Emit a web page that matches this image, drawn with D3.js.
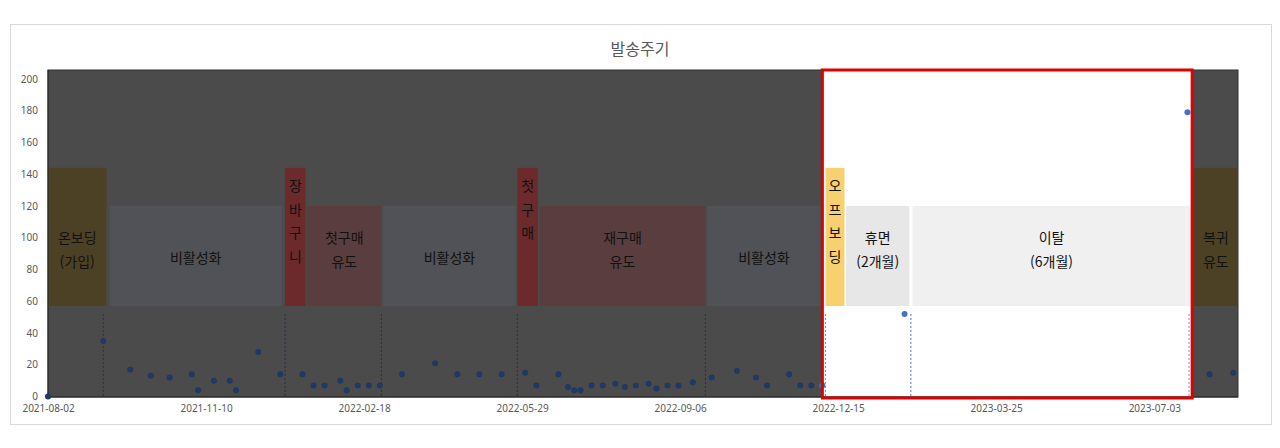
<!DOCTYPE html>
<html lang="ko">
<head>
    <meta charset="UTF-8">
    <title>발송주기</title>
    <script src="https://d3js.org/d3.v7.min.js"></script>
    <style>
        body { margin: 0; background: #fff; }
        .tick_text { font-family: "Noto Sans", sans-serif; font-size: 10px; fill: #595959; }
        .phase_text { font-family: "Noto Sans CJK KR", sans-serif; font-size: 14px; }
    </style>
</head>
<body>
<svg width="1280" height="448"></svg>

<script>
    // send dates and interval (days since previous send)
    const sendDates = [
        "2021-08-02", "2021-09-06", "2021-09-23", "2021-10-06", "2021-10-18", "2021-11-01",
        "2021-11-05", "2021-11-15", "2021-11-25", "2021-11-29", "2021-12-13", "2021-12-27",
        "2022-01-10", "2022-01-17", "2022-01-24", "2022-02-03", "2022-02-07", "2022-02-14",
        "2022-02-21", "2022-02-28", "2022-03-14", "2022-04-04", "2022-04-18", "2022-05-02",
        "2022-05-16", "2022-05-31", "2022-06-07", "2022-06-21", "2022-06-27", "2022-07-01",
        "2022-07-05", "2022-07-12", "2022-07-19", "2022-07-27", "2022-08-02", "2022-08-09",
        "2022-08-17", "2022-08-22", "2022-08-29", "2022-09-05", "2022-09-14", "2022-09-26",
        "2022-10-12", "2022-10-24", "2022-10-31", "2022-11-14", "2022-11-21", "2022-11-28",
        "2022-12-05", "2023-01-26", "2023-07-24", "2023-08-07", "2023-08-22"
    ];
    const sendIntervals = [
        0, 35, 17, 13, 12, 14,
        4, 10, 10, 4, 28, 14,
        14, 7, 7, 10, 4, 7,
        7, 7, 14, 21, 14, 14,
        14, 15, 7, 14, 6, 4,
        4, 7, 7, 8, 6, 7,
        8, 5, 7, 7, 9, 12,
        16, 12, 7, 14, 7, 7,
        7, 52, 179, 14, 15
    ];

    // lifecycle phases
    const phaseNames = ["온보딩\n(가입)", "비활성화", "장바구니", "첫구매\n유도", "비활성화", "첫구매",
        "재구매\n유도", "비활성화", "오프보딩", "휴면\n(2개월)", "이탈\n(6개월)", "복귀\n유도"];
    const phaseStarts = ["2021-08-02", "2021-09-10", "2021-12-30", "2022-01-13", "2022-03-02", "2022-05-26",
        "2022-06-09", "2022-09-23", "2022-12-07", "2022-12-20", "2023-01-31", "2023-07-28"];
    const phaseEnds = ["2021-09-08", "2021-12-28", "2022-01-12", "2022-03-01", "2022-05-25", "2022-06-08",
        "2022-09-22", "2022-12-04", "2022-12-19", "2023-01-29", "2023-07-26", "2023-08-25"];
    const phaseKinds = ["onboard", "idle", "event", "nudge", "idle", "event",
        "nudge", "idle", "offboard", "dormant", "churn", "onboard"];

    // dotted marker lines at phase changes
    const markerDates = ["2021-09-06", "2021-12-30", "2022-03-01", "2022-05-26", "2022-09-22",
        "2022-12-07", "2023-01-30", "2023-07-25"];

    const highlightRange = ["2022-12-05", "2023-07-27"];
    const axisRange = ["2021-08-02", "2023-08-25"];
    const xTickLabels = ["2021-08-02", "2021-11-10", "2022-02-18", "2022-05-29", "2022-09-06",
        "2022-12-15", "2023-03-25", "2023-07-03"];
    const yTicks = [0, 20, 40, 60, 80, 100, 120, 140, 160, 180, 200];

    const parse = d3.utcParse("%Y-%m-%d");
    const svg = d3.select("svg");

    const plotLeft = 48, plotRight = 1238, plotTop = 70, plotBottom = 397;

    const x = d3.scaleUtc().domain(axisRange.map(parse)).range([plotLeft, plotRight]);
    const y = d3.scaleLinear().domain([0, 200]).range([396.5, 79]);

    const tallTop = 144, shortTop = 120, boxBase = 57, markerTop = 52;

    // fill colours (already dimmed where the dark cover lies)
    const kindFill = {
        onboard: "#4c4124", idle: "#505257", event: "#6c2a2c", nudge: "#5a3e3f",
        offboard: "#f7d06f", dormant: "#e7e7e7", churn: "#f0f0f0"
    };
    const tallKinds = ["onboard", "event", "offboard"];

    const hx0 = x(parse(highlightRange[0])), hx1 = x(parse(highlightRange[1]));
    const inHole = px => px >= hx0 && px <= hx1;

    // chart frame
    svg.append("rect")
        .attr("x", 10.5).attr("y", 24.5).attr("width", 1261).attr("height", 400)
        .attr("fill", "#fff").attr("stroke", "#d9d9d9");

    svg.append("text")
        .attr("x", 640).attr("y", 48)
        .attr("text-anchor", "middle").attr("dominant-baseline", "central")
        .style("font-family", "'Noto Sans CJK KR', sans-serif")
        .style("font-size", "16px").attr("fill", "#595959")
        .text("발송주기");

    // dark cover with a hole for the highlighted period
    const cover = d3.path();
    cover.rect(plotLeft, plotTop, plotRight - plotLeft, plotBottom - plotTop);
    cover.rect(hx0, plotTop, hx1 - hx0, plotBottom - plotTop + 1);
    svg.append("path")
        .attr("d", cover.toString())
        .attr("fill", "#4b4b4b").attr("fill-rule", "evenodd");
    svg.append("rect")
        .attr("x", plotLeft).attr("y", plotTop)
        .attr("width", plotRight - plotLeft).attr("height", plotBottom - plotTop)
        .attr("fill", "none").attr("stroke", "#333");

    // phase boxes
    const phases = phaseNames.map((name, i) => ({
        name: name, kind: phaseKinds[i],
        x0: x(parse(phaseStarts[i])), x1: x(parse(phaseEnds[i]))
    }));

    svg.append("g").selectAll("rect")
        .data(phases).enter().append("rect")
        .attr("x", d => d.x0)
        .attr("width", d => d.x1 - d.x0)
        .attr("y", d => y(tallKinds.includes(d.kind) ? tallTop : shortTop))
        .attr("height", d => y(boxBase) - y(tallKinds.includes(d.kind) ? tallTop : shortTop))
        .attr("fill", d => kindFill[d.kind]);

    const yMid = (y(shortTop) + y(boxBase)) / 2;
    const labels = svg.append("g").attr("class", "phase_text");
    phases.forEach(function (d) {
        const cx = (d.x0 + d.x1) / 2;
        const color = "#111";
        if (d.x1 - d.x0 < 30) {
            // narrow box: one character per line
            Array.from(d.name).forEach(function (ch, k) {
                labels.append("text")
                    .attr("x", cx).attr("y", y(tallTop) + 17 + k * 23.7)
                    .attr("text-anchor", "middle").attr("dominant-baseline", "central")
                    .attr("fill", color).text(ch);
            });
        } else {
            const lines = d.name.split("\n");
            lines.forEach(function (ln, k) {
                const ly = lines.length === 1 ? yMid + 0.5 : yMid - 19 + k * 24;
                labels.append("text")
                    .attr("x", cx).attr("y", ly)
                    .attr("text-anchor", "middle").attr("dominant-baseline", "central")
                    .attr("fill", color).text(ln);
            });
        }
    });

    // dotted marker lines
    svg.append("g").selectAll("line")
        .data(markerDates).enter().append("line")
        .attr("x1", d => x(parse(d))).attr("x2", d => x(parse(d)))
        .attr("y1", y(markerTop)).attr("y2", y(0))
        .attr("stroke", function (d) {
            const px = x(parse(d));
            if (!inHole(px)) return "#25304a";
            if (px - hx0 < 8 || hx1 - px < 8) return "#a07ab8";
            return "#4472c4";
        })
        .attr("stroke-width", 1)
        .attr("stroke-dasharray", "2,2");

    // axis lines
    svg.append("line")
        .attr("x1", plotLeft).attr("x2", plotLeft).attr("y1", plotTop).attr("y2", plotBottom)
        .attr("stroke", "#262626");
    svg.append("line")
        .attr("x1", plotLeft).attr("x2", plotRight).attr("y1", plotBottom).attr("y2", plotBottom)
        .attr("stroke", "#262626");

    // points
    svg.append("g").selectAll("circle")
        .data(sendDates.map((d, i) => ({date: parse(d), v: sendIntervals[i]})))
        .enter().append("circle")
        .attr("cx", d => x(d.date))
        .attr("cy", d => y(d.v))
        .attr("r", 3)
        .attr("fill", d => inHole(x(d.date)) ? "#4472c4" : "#1f3864");

    // highlight frame
    svg.append("rect")
        .attr("x", hx0).attr("y", plotTop)
        .attr("width", hx1 - hx0).attr("height", plotBottom - plotTop + 1)
        .attr("fill", "none").attr("stroke", "#e00000").attr("stroke-width", 3);

    // y axis labels
    const yAxis = d3.axisLeft(y).tickValues(yTicks).tickSize(0).tickPadding(10);
    const gy = svg.append("g").attr("transform", `translate(${plotLeft},0)`).call(yAxis);
    gy.select(".domain").remove();
    gy.selectAll("text").attr("class", "tick_text");

    // x axis labels
    const xAxis = d3.axisBottom(x)
        .tickValues(xTickLabels.map(parse))
        .tickFormat(d3.utcFormat("%Y-%m-%d"))
        .tickSize(0).tickPadding(8);
    const gx = svg.append("g").attr("transform", `translate(0,${plotBottom})`).call(xAxis);
    gx.select(".domain").remove();
    gx.selectAll("text").attr("class", "tick_text");
</script>
</body>
</html>
